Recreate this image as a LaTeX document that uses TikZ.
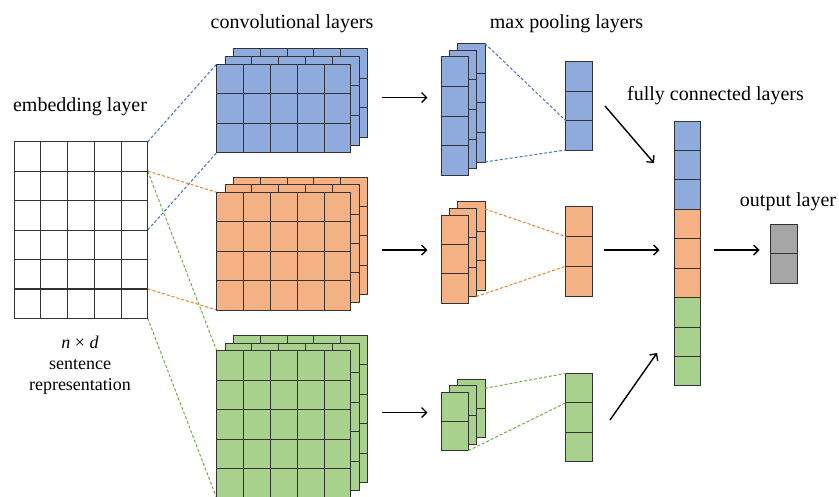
\documentclass[tikz,border=0pt]{standalone}
\usepackage{fontspec}
\setmainfont{Liberation Serif}
\usetikzlibrary{arrows.meta}
\definecolor{cblue}{HTML}{8FAADC}
\definecolor{corange}{HTML}{F4B183}
\definecolor{cgreen}{HTML}{A9D18E}
\definecolor{cgray}{HTML}{A6A6A6}
\definecolor{dblue}{HTML}{4472C4}
\definecolor{dorange}{HTML}{ED7D31}
\definecolor{dgreen}{HTML}{70AD47}
\definecolor{edge}{HTML}{333333}
\tikzset{
  cellline/.style={draw=edge, line width=0.8pt},
  title/.style={font=\rmfamily\fontsize{20}{24}\selectfont, anchor=base, inner sep=0pt},
  subtitle/.style={font=\rmfamily\fontsize{18}{21}\selectfont, anchor=base, inner sep=0pt},
  link/.style={line width=1pt, dash pattern=on 3pt off 2pt},
  flow/.style={line width=1.4pt, -{Straight Barb[length=5pt,width=10pt,line width=1.3pt]}},
}
% fill, x, y, cols, rows, cell width, cell height
\newcommand{\glayer}[7]{%
  \fill[#1] (#2,#3) rectangle ++({#4*#6},{#5*#7});
  \foreach \k in {0,...,#4} \draw[cellline] ({#2+\k*#6},#3) -- ++(0,{#5*#7});
  \foreach \k in {0,...,#5} \draw[cellline] (#2,{#3+\k*#7}) -- ++({#4*#6},0);
  \draw[cellline] (#2,#3) rectangle ++({#4*#6},{#5*#7});
}
% stack of three layers: fill, x, y, cols, rows, w, h, dx, dy
\newcommand{\gstack}[9]{%
  \glayer{#1}{#2+2*#8}{#3+2*#9}{#4}{#5}{#6}{#7}
  \glayer{#1}{#2+#8}{#3+#9}{#4}{#5}{#6}{#7}
  \glayer{#1}{#2}{#3}{#4}{#5}{#6}{#7}
}
\begin{document}
\begin{tikzpicture}[x=1pt,y=-1pt]
\useasboundingbox (0,0) rectangle (839,496);
\clip (0,0) rectangle (839,496);
\fill[white] (0,0) rectangle (839,496);

% ---------- named points ----------
\coordinate (eTR) at (147.7,141.7);
\coordinate (eR1) at (147.7,171.1);
\coordinate (eR3) at (147.7,230.0);
\coordinate (eR5) at (147.7,288.9);
\coordinate (eBR) at (147.7,318.3);
\coordinate (cbTL) at (216.7,64);
\coordinate (cbBL) at (216.7,152.7);
\coordinate (coTL) at (216.7,192.3);
\coordinate (coBL) at (216.7,310);
\coordinate (cgTL) at (216.7,350.7);
\coordinate (cgBL) at (216.7,498.2);

% ---------- dashed links embedding -> conv ----------
\draw[link, dblue] (eTR) -- (cbTL);
\draw[link, dblue] (eR3) -- (cbBL);
\draw[link, dorange] (eR1) -- (coTL);
\draw[link, dorange] (eR5) -- (coBL);
\draw[link, dgreen] (eR1) -- (cgTL);
\draw[link, dgreen] (eBR) -- (cgBL);

% ---------- embedding layer ----------
\glayer{white}{14}{141.7}{5}{6}{26.74}{29.43}
\draw[draw=edge, line width=1.2pt] (14,288.9) -- (147.7,288.9);
\node[title] (tEmb) at (80,111.7) {embedding layer};
\node[subtitle] (tNd) at (80,348.5) {\textit{n} × \textit{d}};
\node[subtitle] (tSen) at (80,369.5) {sentence};
\node[subtitle] (tRep) at (80,390) {representation};

% ---------- convolutional layers ----------
\gstack{cblue}{216.7}{64}{5}{3}{26.8}{29.57}{8.3}{-7.7}
\gstack{corange}{216.7}{192.3}{5}{4}{26.8}{29.43}{8.3}{-7.7}
\gstack{cgreen}{216.7}{350.7}{5}{5}{26.8}{29.5}{8.3}{-7.7}
\node[title] (tConv) at (292,28.3) {convolutional layers};

% ---------- max pooling stacks ----------
\gstack{cblue}{441}{56.7}{1}{4}{27.3}{29.6}{8.3}{-6.6}
\gstack{corange}{441}{215}{1}{3}{27.3}{29.43}{8.3}{-6.6}
\gstack{cgreen}{441}{392.3}{1}{2}{27.3}{29.2}{8.3}{-6.6}
\node[title] (tPool) at (566.5,28.3) {max pooling layers};

% pooled columns
\glayer{cblue}{565.7}{61.7}{1}{3}{26.3}{29.43}
\glayer{corange}{565.7}{206.7}{1}{3}{26.3}{29.77}
\glayer{cgreen}{565.7}{373.3}{1}{3}{26.3}{29.47}

% dashed links pool -> pooled
\coordinate (pbA) at (484.9,43.5);
\coordinate (pbB) at (484.9,162);
\coordinate (qbA) at (565.7,120.6);
\coordinate (qbB) at (565.7,150);
\coordinate (poA) at (484.9,209);
\coordinate (poB) at (476.3,296.5);
\coordinate (qoA) at (565.7,236.5);
\coordinate (qoB) at (565.7,266.2);
\coordinate (pgA) at (484.9,388.3);
\coordinate (pgB) at (468.3,450.7);
\coordinate (qgA) at (565.7,373.3);
\coordinate (qgB) at (565.7,402.8);
\draw[link, dblue] (pbA) -- (qbA);
\draw[link, dblue] (pbB) -- (qbB);
\draw[link, dorange] (poA) -- (qoA);
\draw[link, dorange] (poB) -- (qoB);
\draw[link, dgreen] (pgA) -- (qgA);
\draw[link, dgreen] (pgB) -- (qgB);

% ---------- fully connected ----------
\glayer{cblue}{674}{121}{1}{3}{26}{29.41}
\glayer{corange}{674}{209.2}{1}{3}{26}{29.41}
\glayer{cgreen}{674}{297.5}{1}{3}{26}{29.41}
\node[title] (tFc) at (715.5,100.7) {fully connected layers};

% ---------- output ----------
\glayer{cgray}{770.7}{224.3}{1}{2}{27}{29.5}
\node[title] (tOut) at (788,206.7) {output layer};

% ---------- arrows ----------
\coordinate (a1s) at (382,97.5);  \coordinate (a1e) at (427.5,97.5);
\coordinate (a2s) at (382,250);   \coordinate (a2e) at (427.5,250);
\coordinate (a3s) at (382,412.5); \coordinate (a3e) at (427.5,412.5);
\coordinate (b1s) at (605,106);   \coordinate (b1e) at (654,163);
\coordinate (b2s) at (604,250);   \coordinate (b2e) at (659.5,250);
\coordinate (b3s) at (610,420);   \coordinate (b3e) at (657,353);
\coordinate (c1s) at (713.5,250); \coordinate (c1e) at (759.5,250);
\draw[flow] (a1s) -- (a1e);
\draw[flow] (a2s) -- (a2e);
\draw[flow] (a3s) -- (a3e);
\draw[flow] (b1s) -- (b1e);
\draw[flow] (b2s) -- (b2e);
\draw[flow] (b3s) -- (b3e);
\draw[flow] (c1s) -- (c1e);
\end{tikzpicture}
\end{document}
